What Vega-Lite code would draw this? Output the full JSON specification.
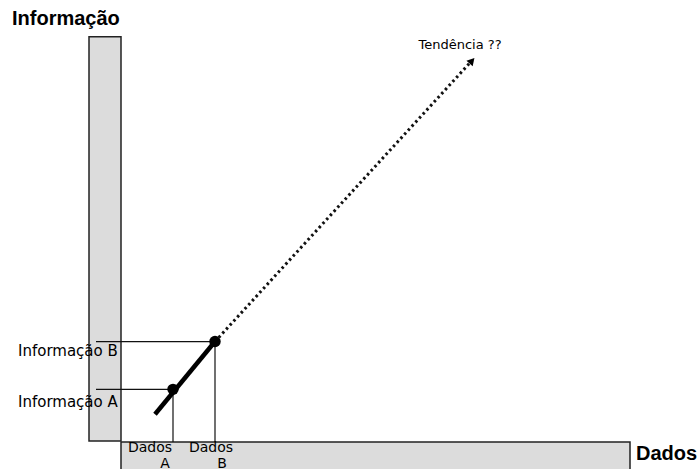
{
  "$schema": "https://vega.github.io/schema/vega-lite/v6.json",
  "width": 698,
  "height": 471,
  "autosize": {"type": "fit", "contains": "padding"},
  "padding": 0,
  "background": "white",
  "config": {"view": {"stroke": null}},
  "datasets": {
    "boxes": [
      {"x": 89, "x2": 121, "y": 28, "y2": 434},
      {"x": 121, "x2": 630, "y": -4, "y2": 27}
    ],
    "guides": [
      {"x": 96, "y": 80, "x2": 173, "y2": 80},
      {"x": 96, "y": 128, "x2": 215, "y2": 128},
      {"x": 173, "y": 80, "x2": 173, "y2": 27},
      {"x": 215, "y": 128, "x2": 215, "y2": 27}
    ],
    "trend": [{"x": 155, "y": 55, "x2": 215, "y2": 128}],
    "projection": [{"x": 215, "y": 128, "x2": 470, "y2": 408}],
    "points": [
      {"x": 173, "y": 80, "name": "A"},
      {"x": 215, "y": 128, "name": "B"}
    ],
    "arrow": [{"x": 472, "y": 410}],
    "axisLabels": [
      {"x": 18, "y": 119, "text": "Informação B"},
      {"x": 18, "y": 67, "text": "Informação A"}
    ],
    "dataLabels": [
      {"x": 150, "y": 21, "text": "Dados"},
      {"x": 165, "y": 5, "text": "A"},
      {"x": 211, "y": 21, "text": "Dados"},
      {"x": 222, "y": 5, "text": "B"}
    ],
    "titles": [
      {"x": 12, "y": 452, "text": "Informação"},
      {"x": 636, "y": 15, "text": "Dados"}
    ],
    "note": [{"x": 460, "y": 426, "text": "Tendência ??"}]
  },
  "layer": [
    {
      "data": {"name": "boxes"},
      "mark": {"type": "rect", "fill": "#dcdcdc", "stroke": "#222222", "strokeWidth": 1.5, "clip": true},
      "encoding": {
        "x": {"field": "x", "type": "quantitative", "scale": {"domain": [0, 698], "nice": false, "zero": false}, "axis": null},
        "x2": {"field": "x2"},
        "y": {"field": "y", "type": "quantitative", "scale": {"domain": [0, 471], "nice": false, "zero": false}, "axis": null},
        "y2": {"field": "y2"}
      }
    },
    {
      "data": {"name": "guides"},
      "mark": {"type": "rule", "color": "#111111", "strokeWidth": 1.2},
      "encoding": {
        "x": {"field": "x", "type": "quantitative"},
        "x2": {"field": "x2"},
        "y": {"field": "y", "type": "quantitative"},
        "y2": {"field": "y2"}
      }
    },
    {
      "data": {"name": "projection"},
      "mark": {"type": "rule", "color": "#111111", "strokeWidth": 3, "strokeDash": [2.5, 3]},
      "encoding": {
        "x": {"field": "x", "type": "quantitative"},
        "x2": {"field": "x2"},
        "y": {"field": "y", "type": "quantitative"},
        "y2": {"field": "y2"}
      }
    },
    {
      "data": {"name": "trend"},
      "mark": {"type": "rule", "color": "#000000", "strokeWidth": 4.5},
      "encoding": {
        "x": {"field": "x", "type": "quantitative"},
        "x2": {"field": "x2"},
        "y": {"field": "y", "type": "quantitative"},
        "y2": {"field": "y2"}
      }
    },
    {
      "data": {"name": "points"},
      "mark": {"type": "point", "filled": true, "color": "#000000", "size": 130, "opacity": 1},
      "encoding": {
        "x": {"field": "x", "type": "quantitative"},
        "y": {"field": "y", "type": "quantitative"}
      }
    },
    {
      "data": {"name": "arrow"},
      "mark": {"type": "point", "shape": "triangle-up", "filled": true, "color": "#000000", "size": 70, "angle": 42, "opacity": 1},
      "encoding": {
        "x": {"field": "x", "type": "quantitative"},
        "y": {"field": "y", "type": "quantitative"}
      }
    },
    {
      "data": {"name": "axisLabels"},
      "mark": {"type": "text", "font": "DejaVu Sans", "fontSize": 15, "color": "#000000", "baseline": "middle", "align": "left"},
      "encoding": {
        "x": {"field": "x", "type": "quantitative"},
        "y": {"field": "y", "type": "quantitative"},
        "text": {"field": "text"}
      }
    },
    {
      "data": {"name": "dataLabels"},
      "mark": {"type": "text", "font": "DejaVu Sans", "fontSize": 14, "color": "#000000", "baseline": "middle", "align": "center"},
      "encoding": {
        "x": {"field": "x", "type": "quantitative"},
        "y": {"field": "y", "type": "quantitative"},
        "text": {"field": "text"}
      }
    },
    {
      "data": {"name": "titles"},
      "mark": {"type": "text", "font": "Liberation Sans", "fontWeight": "bold", "fontSize": 20, "color": "#000000", "baseline": "middle", "align": "left"},
      "encoding": {
        "x": {"field": "x", "type": "quantitative"},
        "y": {"field": "y", "type": "quantitative"},
        "text": {"field": "text"}
      }
    },
    {
      "data": {"name": "note"},
      "mark": {"type": "text", "font": "DejaVu Sans", "fontSize": 13, "color": "#000000", "baseline": "middle", "align": "center"},
      "encoding": {
        "x": {"field": "x", "type": "quantitative"},
        "y": {"field": "y", "type": "quantitative"},
        "text": {"field": "text"}
      }
    }
  ]
}
